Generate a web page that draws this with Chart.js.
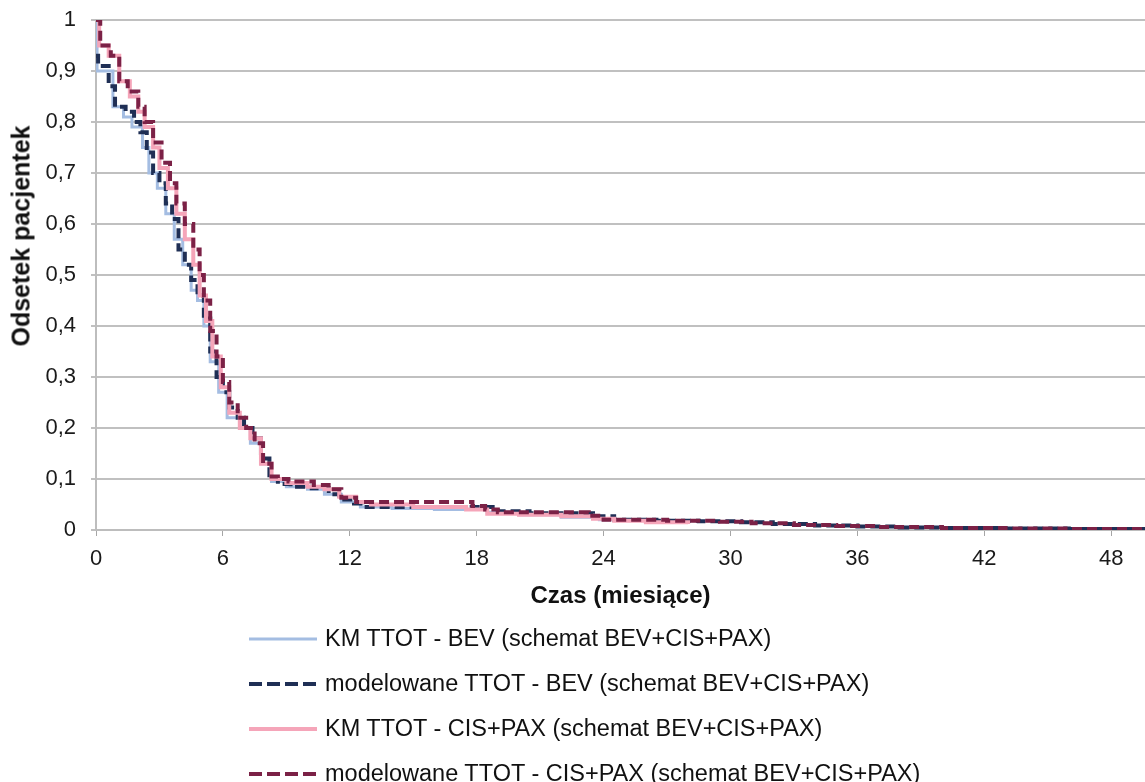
<!DOCTYPE html>
<html>
<head>
<meta charset="utf-8">
<title>TTOT</title>
<script src="https://cdn.jsdelivr.net/npm/chart.js@4.4.1/dist/chart.umd.min.js"></script>
<style>
  body { margin: 0; background: #fff; font-family: "Liberation Sans", Arial, sans-serif; }
  #wrap { position: relative; width: 1145px; height: 620px; }
  #ytitle {
    position: absolute; left: 21px; top: 236px; transform: translate(-50%, -50%) rotate(-90deg);
    font-size: 25px; font-weight: bold; color: #111; white-space: nowrap;
  }
  #legend { position: absolute; left: 249px; top: 616px; }
  .item { display: flex; align-items: center; height: 45px; font-size: 23.5px; color: #111; }
  .item svg { margin-right: 8px; }
</style>
</head>
<body>
<div id="wrap">
  <canvas id="chart" width="1145" height="620"></canvas>
  <div id="ytitle">Odsetek pacjentek</div>
</div>
<div id="legend"></div>
<script>
// czas w miesiącach / odsetek pacjentek
const kmBevTime = [0, 0.05, 0.8, 1.3, 1.7, 2.2, 2.5, 2.9, 3.3, 3.7, 4.1, 4.5, 4.8, 5.1, 5.4, 5.8, 6.2, 6.8, 7.3, 7.8, 8.3, 9.0, 10.0, 10.8, 11.6, 12.5, 14.0, 16.0, 18.5, 20.0, 22.0, 23.8, 26.0, 28.0];
const kmBevSurv = [1, 0.9, 0.83, 0.81, 0.79, 0.75, 0.7, 0.67, 0.62, 0.57, 0.52, 0.47, 0.45, 0.4, 0.33, 0.27, 0.22, 0.2, 0.17, 0.13, 0.095, 0.085, 0.08, 0.07, 0.055, 0.045, 0.042, 0.04, 0.035, 0.03, 0.025, 0.02, 0.015, 0.012];

const modBevTime = [0, 0.1, 0.6, 0.9, 1.4, 1.8, 2.1, 2.4, 2.7, 3.0, 3.3, 3.6, 3.9, 4.2, 4.5, 4.8, 5.1, 5.4, 5.7, 6.0, 6.3, 6.7, 7.0, 7.4, 7.8, 8.2, 8.6, 9.2, 10.2, 11.0, 11.5, 12.2, 12.6, 19.0, 20.5, 23.5, 24.5, 26.5, 28.5, 30.5, 32, 34, 36, 38, 40, 43, 46, 50];
const modBevSurv = [0.93, 0.91, 0.87, 0.83, 0.82, 0.8, 0.78, 0.74, 0.7, 0.68, 0.64, 0.61, 0.55, 0.52, 0.49, 0.46, 0.42, 0.35, 0.3, 0.27, 0.24, 0.22, 0.2, 0.18, 0.14, 0.1, 0.09, 0.085, 0.082, 0.07, 0.06, 0.052, 0.045, 0.037, 0.033, 0.027, 0.02, 0.018, 0.017, 0.015, 0.012, 0.009, 0.007, 0.005, 0.004, 0.003, 0.002, 0.001];

const kmCpTime = [0, 0.15, 0.6, 1.1, 1.6, 2.0, 2.3, 2.7, 3.0, 3.4, 3.8, 4.2, 4.6, 4.9, 5.2, 5.5, 5.9, 6.3, 6.8, 7.3, 7.8, 8.3, 9.0, 10.0, 10.8, 11.5, 12.3, 13.0, 15.0, 17.5, 18.5, 20.0, 22.0, 23.5, 24.5, 26.0, 28.0];
const kmCpSurv = [1, 0.95, 0.93, 0.88, 0.85, 0.82, 0.79, 0.75, 0.71, 0.67, 0.62, 0.57, 0.52, 0.46, 0.41, 0.34, 0.28, 0.23, 0.2, 0.18, 0.13, 0.1, 0.092, 0.085, 0.08, 0.065, 0.055, 0.05, 0.045, 0.04, 0.032, 0.03, 0.027, 0.022, 0.018, 0.015, 0.012];

const modCpTime = [0, 0.2, 0.7, 1.1, 1.5, 2.0, 2.3, 2.7, 3.1, 3.5, 3.8, 4.2, 4.6, 4.9, 5.1, 5.4, 5.7, 6.0, 6.3, 6.7, 7.1, 7.5, 7.9, 8.3, 8.6, 9.1, 10.3, 11.0, 11.6, 12.3, 17.8, 18.4, 19.0, 23.3, 24.0, 27.0, 29.5, 31, 33, 35, 37, 40, 43, 46, 50];
const modCpSurv = [1, 0.95, 0.93, 0.88, 0.86, 0.83, 0.8, 0.76, 0.72, 0.68, 0.64, 0.6, 0.55, 0.5, 0.45, 0.39, 0.34, 0.29, 0.25, 0.22, 0.2, 0.17, 0.13, 0.105, 0.1, 0.095, 0.088, 0.08, 0.063, 0.055, 0.047, 0.04, 0.035, 0.028, 0.02, 0.018, 0.016, 0.013, 0.01, 0.008, 0.006, 0.004, 0.003, 0.002, 0.001];

const seriesLabels = [
  "KM TTOT -  BEV (schemat BEV+CIS+PAX)",
  "modelowane TTOT - BEV (schemat BEV+CIS+PAX)",
  "KM TTOT - CIS+PAX (schemat BEV+CIS+PAX)",
  "modelowane TTOT - CIS+PAX (schemat BEV+CIS+PAX)"
];
const xTicks = [0, 6, 12, 18, 24, 30, 36, 42, 48];

const pts = (t, s) => t.map((x, i) => ({ x: x, y: s[i] }));

const line = (label, data, color, width, dash, order) => ({
  label, data, borderColor: color, borderWidth: width, borderDash: dash,
  pointRadius: 0, stepped: true, fill: false, order
});

const datasets = [
  line(seriesLabels[0], pts(kmBevTime, kmBevSurv), "#a4bde2", 3, [], 4),
  line(seriesLabels[1], pts(modBevTime, modBevSurv), "#1f2f55", 4, [10, 5], 3),
  line(seriesLabels[2], pts(kmCpTime, kmCpSurv), "#f5a5b9", 4, [], 2),
  line(seriesLabels[3], pts(modCpTime, modCpSurv), "#7b2146", 4, [10, 5], 1)
];

const tickFont = { family: "'Liberation Sans', Arial, sans-serif", size: 22 };
const titleFont = { family: "'Liberation Sans', Arial, sans-serif", size: 24, weight: "bold" };

const chart = new Chart(document.getElementById("chart"), {
  type: "line",
  data: { datasets },
  options: {
    responsive: false,
    animation: false,
    layout: { padding: { top: 20, right: 0, left: 0, bottom: 0 } },
    plugins: { legend: { display: false }, tooltip: { enabled: false } },
    scales: {
      x: {
        type: "linear",
        min: 0,
        max: 49.6,
        afterBuildTicks: (axis) => { axis.ticks = xTicks.map((v) => ({ value: v })); },
        afterFit: (axis) => { axis.height = 90; },
        ticks: { color: "#1a1a1a", font: tickFont, padding: 10, maxRotation: 0 },
        grid: { drawOnChartArea: false, drawTicks: true, tickLength: 6, color: "#a6a6a6" },
        border: { color: "#bdbdbd", width: 2 },
        title: { display: true, text: "Czas (miesiące)", color: "#111", font: titleFont, padding: { top: 4, bottom: 9 } }
      },
      y: {
        min: 0,
        max: 1,
        // stała szerokość osi, etykieta "1" mieści się w marginesie górnym
        afterFit: (axis) => { axis.width = 96; axis.paddingTop = 0; axis.paddingBottom = 0; },
        ticks: {
          stepSize: 0.1, color: "#1a1a1a", font: tickFont, padding: 15,
          callback: (v) => String(Math.round(v * 10) / 10).replace(".", ",")
        },
        grid: { color: "#c0c0c0", lineWidth: 2, tickLength: 5 },
        border: { color: "#bdbdbd", width: 2 }
      }
    }
  }
});

// legenda pod wykresem, jedna seria w wierszu
const legend = document.getElementById("legend");
chart.data.datasets.forEach((ds) => {
  const row = document.createElement("div");
  row.className = "item";
  const dash = ds.borderDash.length ? ' stroke-dasharray="13 5"' : "";
  row.innerHTML =
    `<svg width="68" height="8"><line x1="0" y1="4" x2="68" y2="4" stroke="${ds.borderColor}" stroke-width="${ds.borderWidth}"${dash}/></svg>` +
    `<span>${ds.label}</span>`;
  legend.appendChild(row);
});
</script>
</body>
</html>
